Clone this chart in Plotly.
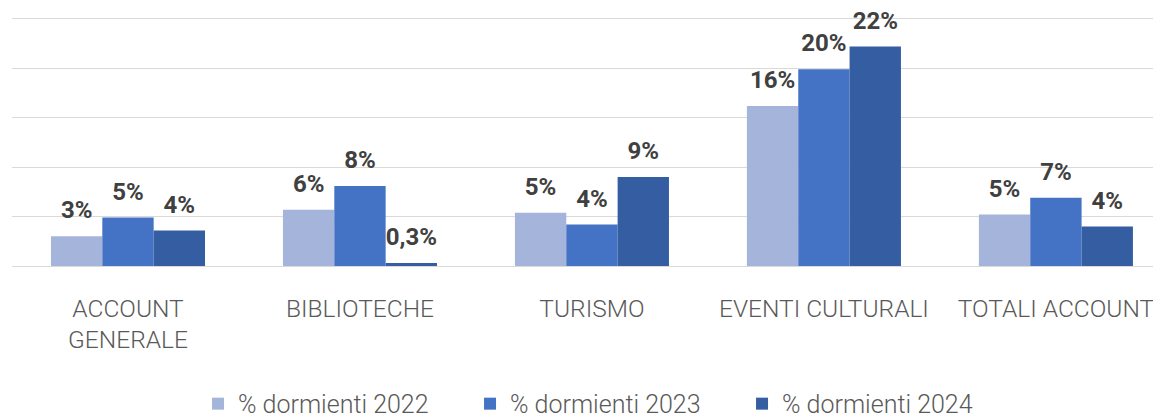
import plotly.graph_objects as go

categories = ["ACCOUNT<br>GENERALE", "BIBLIOTECHE", "TURISMO", "EVENTI CULTURALI", "TOTALI ACCOUNT"]
series_names = ["% dormienti 2022", "% dormienti 2023", "% dormienti 2024"]
values_2022 = [3.0, 5.7, 5.4, 16.2, 5.2]
values_2023 = [4.9, 8.1, 4.2, 19.9, 6.9]
values_2024 = [3.6, 0.3, 9.0, 22.2, 4.0]
labels_2022 = ["3%", "6%", "5%", "16%", "5%"]
labels_2023 = ["5%", "8%", "4%", "20%", "7%"]
labels_2024 = ["4%", "0,3%", "9%", "22%", "4%"]

colors = ["#A5B4DA", "#4472C4", "#345DA2"]
font_family = "Roboto, 'Open Sans', sans-serif"
label_gap = 0.9  # empty space between bar top and its label (data units)

fig = go.Figure()
for i, (name, vals, labels, color) in enumerate(zip(series_names,
                                     [values_2022, values_2023, values_2024],
                                     [labels_2022, labels_2023, labels_2024],
                                     colors)):
    fig.add_trace(go.Bar(
        x=categories,
        y=vals,
        name=name,
        offsetgroup=str(i),
        marker_color=color,
        marker_line_width=0,
    ))
    # transparent spacer on top of each bar, carries the value label
    fig.add_trace(go.Bar(
        x=categories,
        y=[label_gap] * len(vals),
        base=vals,
        offsetgroup=str(i),
        text=labels,
        textposition='outside',
        cliponaxis=False,
        marker_color='rgba(0,0,0,0)',
        marker_line_width=0,
        showlegend=False,
        hoverinfo='skip',
        textfont=dict(family=font_family, size=24, color='#404040', weight='bold'),
    ))

fig.update_layout(
    width=1161,
    height=419,
    barmode='group',
    bargap=0.336,
    bargroupgap=0,
    plot_bgcolor='white',
    paper_bgcolor='white',
    margin=dict(l=4, r=8, t=6, b=161, autoexpand=False),
    font=dict(family=font_family, color='#595959'),
    xaxis=dict(
        range=[-0.5, 4.453],
        automargin=False,
        tickangle=0,
        tickfont=dict(size=24.5, color='#595959', weight=300),
        ticklabelstandoff=25,
        showline=False,
        ticks='',
    ),
    yaxis=dict(
        range=[0, 25.5],
        automargin=False,
        dtick=5,
        showticklabels=False,
        showgrid=True,
        gridcolor='#D9D9D9',
        gridwidth=1,
        zeroline=True,
        zerolinecolor='#D9D9D9',
        zerolinewidth=1,
    ),
    legend=dict(
        orientation='h',
        x=0.517,
        xanchor='center',
        y=-0.456,
        yanchor='top',
        entrywidth=227,
        entrywidthmode='pixels',
        font=dict(size=25, color='#595959', weight=300),
    ),
)

fig.write_html("out.html")
